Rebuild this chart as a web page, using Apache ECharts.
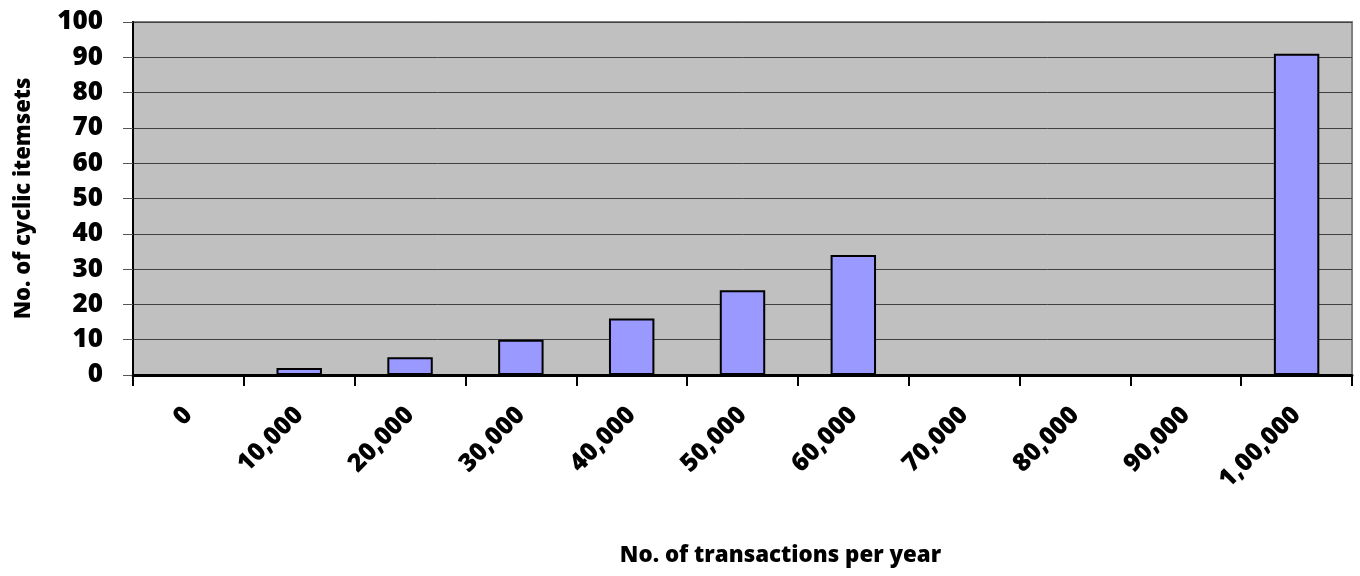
<!DOCTYPE html>
<html>
<head>
<meta charset="utf-8">
<script src="https://cdn.jsdelivr.net/npm/echarts@6/dist/echarts.min.js"></script>
<style>html,body{margin:0;padding:0;background:#fff;}#c{width:1360px;height:576px;}</style>
</head>
<body>
<div id="c"></div>
<script>
const categories = ['0', '10,000', '20,000', '30,000', '40,000', '50,000', '60,000', '70,000', '80,000', '90,000', '1,00,000'];
const cyclicItemsets = [0, 2, 5, 10, 16, 24, 34, 0, 0, 0, 91];
const yTicks = { min: 0, max: 100, interval: 10 };
const xTitle = 'No. of transactions per year';
const yTitle = 'No. of cyclic itemsets';

const FONT = '"Open Sans"';
const W = 800;
const chart = echarts.init(document.getElementById('c'), null, { renderer: 'canvas' });
chart.setOption({
  animation: false,
  backgroundColor: '#ffffff',
  grid: {
    left: 133, right: 8, top: 22, bottom: 201,
    show: true, backgroundColor: '#c0c0c0', borderColor: '#808080', borderWidth: 2
  },
  xAxis: {
    type: 'category',
    data: categories,
    name: xTitle,
    nameLocation: 'middle',
    nameGap: 170,
    nameTextStyle: { fontFamily: FONT, fontWeight: W, fontSize: 22.3, color: '#000', padding: [0, 0, 0, 76] },
    axisLine: { lineStyle: { color: '#000', width: 3 } },
    axisTick: { show: true, alignWithLabel: false, length: 11, lineStyle: { color: '#000', width: 2 } },
    axisLabel: { rotate: 45, interval: 0, margin: 36, fontFamily: FONT, fontWeight: W, fontSize: 25, color: '#000' },
    splitLine: { show: false }
  },
  yAxis: {
    type: 'value',
    min: yTicks.min, max: yTicks.max, interval: yTicks.interval,
    name: yTitle,
    nameLocation: 'middle',
    nameGap: 98,
    nameTextStyle: { fontFamily: FONT, fontWeight: W, fontSize: 22, color: '#000' },
    axisLine: { show: true, lineStyle: { color: '#000', width: 2 } },
    axisTick: { show: true, length: 10, lineStyle: { color: '#555', width: 1 } },
    axisLabel: { margin: 30, fontFamily: FONT, fontWeight: W, fontSize: 26, color: '#000' },
    splitLine: { show: true, lineStyle: { color: '#404040', width: 1 } }
  },
  series: [{
    type: 'bar',
    data: cyclicItemsets,
    barWidth: '41%',
    itemStyle: { color: '#9999ff', borderColor: '#000', borderWidth: 2 }
  }]
});
</script>
</body>
</html>
